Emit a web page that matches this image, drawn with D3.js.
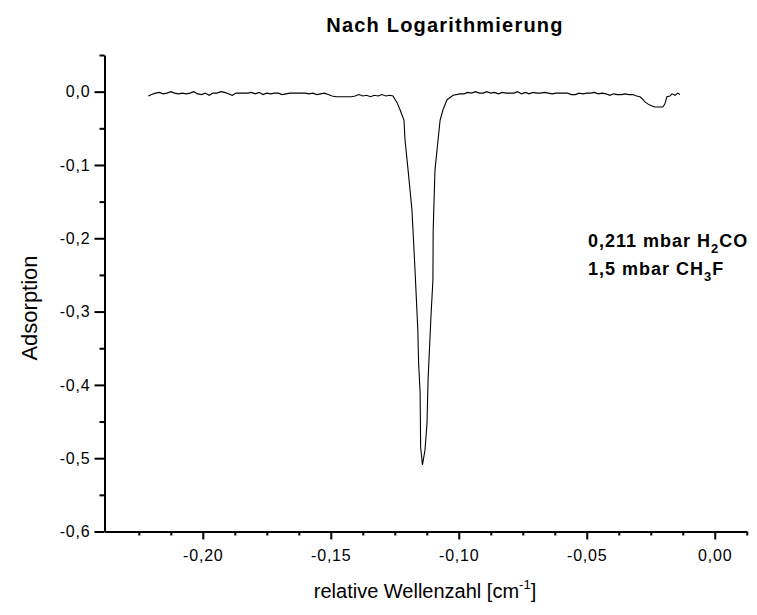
<!DOCTYPE html>
<html>
<head>
<meta charset="utf-8">
<script src="https://cdn.jsdelivr.net/npm/d3@7"></script>
<style>
  html, body { margin: 0; padding: 0; background: #fff; }
  svg { display: block; }
  text { font-family: "Liberation Sans", Arial, sans-serif; fill: #000; }
</style>
</head>
<body>
<svg id="chart" width="757" height="615"></svg>
<script>
// ---------------- data ----------------
const chartTitle = "Nach Logarithmierung";
const yAxisTitle = "Adsorption";
const xAxisTitle = "relative Wellenzahl [cm";
const annotationLines = [
  [["0,211 mbar H", false], ["2", true], ["CO", false]],
  [["1,5 mbar CH", false], ["3", true], ["F", false]]
];

const xTickValues = [-0.20, -0.15, -0.10, -0.05, 0.00];
const xTickLabels = ["-0,20", "-0,15", "-0,10", "-0,05", "0,00"];
const yTickValues = [0.0, -0.1, -0.2, -0.3, -0.4, -0.5, -0.6];
const yTickLabels = ["0,0", "-0,1", "-0,2", "-0,3", "-0,4", "-0,5", "-0,6"];
const xMinorTicks = [-0.225, -0.2125, -0.1875, -0.175, -0.1625, -0.1375, -0.125, -0.1125, -0.0875, -0.075, -0.0625, -0.0375, -0.025, -0.0125, 0.0125];
const yMinorTicks = [0.05, -0.05, -0.15, -0.25, -0.35, -0.45, -0.55];
const xDomain = [-0.2384, 0.0124];
const yDomain = [-0.6, 0.05];

// relative wave number [cm^-1]
const waveNumber = [
  -0.2213, -0.2200, -0.2185, -0.2170, -0.2155, -0.2140, -0.2125, -0.2110, -0.2095, -0.2080,
  -0.2065, -0.2050, -0.2035, -0.2020, -0.2005, -0.1990, -0.1975, -0.1960, -0.1945, -0.1930,
  -0.1915, -0.1900, -0.1885, -0.1870, -0.1855, -0.1840, -0.1825, -0.1810, -0.1795, -0.1780,
  -0.1765, -0.1750, -0.1735, -0.1720, -0.1705, -0.1690, -0.1675, -0.1660, -0.1645, -0.1630,
  -0.1615, -0.1600, -0.1585, -0.1570, -0.1555, -0.1540, -0.1525, -0.1510, -0.1495, -0.1480,
  -0.1465, -0.1450, -0.1435, -0.1420, -0.1405, -0.1390, -0.1375, -0.1360, -0.1345, -0.1330,
  -0.1315, -0.1300, -0.1285, -0.1270, -0.1257, -0.1241, -0.1229, -0.1214, -0.1210, -0.1198,
  -0.1183, -0.1171, -0.1160, -0.1157, -0.1151, -0.1149, -0.1142, -0.1132, -0.1124, -0.1120,
  -0.1108, -0.1101, -0.1100, -0.1093, -0.1081, -0.1073, -0.1062, -0.1046, -0.1022, -0.0995,
  -0.0980, -0.0965, -0.0950, -0.0935, -0.0920, -0.0905, -0.0890, -0.0875, -0.0860, -0.0845,
  -0.0830, -0.0815, -0.0800, -0.0785, -0.0770, -0.0755, -0.0740, -0.0725, -0.0710, -0.0695,
  -0.0680, -0.0665, -0.0650, -0.0635, -0.0620, -0.0605, -0.0590, -0.0575, -0.0560, -0.0545,
  -0.0530, -0.0515, -0.0500, -0.0485, -0.0470, -0.0455, -0.0440, -0.0425, -0.0410, -0.0395,
  -0.0380, -0.0365, -0.0350, -0.0335, -0.0320, -0.0305, -0.0292, -0.0280, -0.0273, -0.0260,
  -0.0250, -0.0234, -0.0203, -0.0195, -0.0187, -0.0175, -0.0167, -0.0155, -0.0145, -0.0136
];
// adsorption
const adsorption = [
  -0.006, -0.004, -0.002, -0.001, -0.003, -0.002, 0.000, -0.002, -0.003, -0.002,
  -0.003, -0.002, 0.000, -0.003, -0.004, -0.002, -0.005, -0.002, -0.002, 0.000,
  -0.001, -0.003, -0.005, -0.002, -0.002, -0.002, -0.002, -0.001, -0.003, -0.001,
  -0.004, -0.002, -0.003, -0.002, -0.002, -0.004, -0.003, -0.002, -0.002, -0.002,
  -0.002, -0.002, -0.003, -0.002, -0.004, -0.003, -0.002, -0.004, -0.006, -0.007,
  -0.007, -0.007, -0.007, -0.007, -0.006, -0.004, -0.006, -0.005, -0.007, -0.005,
  -0.006, -0.004, -0.006, -0.005, -0.006, -0.015, -0.025, -0.039, -0.066, -0.107,
  -0.161, -0.243, -0.325, -0.370, -0.411, -0.485, -0.509, -0.489, -0.452, -0.393,
  -0.302, -0.257, -0.189, -0.107, -0.066, -0.039, -0.025, -0.011, -0.005, -0.003,
  -0.003, -0.001, -0.002, 0.000, -0.002, -0.002, 0.000, -0.002, -0.001, -0.003,
  -0.001, -0.002, -0.002, -0.002, 0.000, -0.003, -0.001, -0.003, -0.001, -0.002,
  -0.002, -0.001, -0.002, -0.003, -0.002, -0.002, -0.002, -0.002, -0.004, -0.004,
  -0.002, -0.003, -0.002, -0.002, -0.001, -0.003, -0.002, -0.003, -0.005, -0.003,
  -0.004, -0.004, -0.003, -0.004, -0.004, -0.006, -0.007, -0.011, -0.014, -0.017,
  -0.019, -0.021, -0.021, -0.017, -0.007, -0.006, -0.003, -0.005, -0.002, -0.004
];

// ---------------- drawing ----------------
const svg = d3.select("#chart");
const x = d3.scaleLinear().domain(xDomain).range([104.5, 746.5]);
const y = d3.scaleLinear().domain(yDomain).range([531.5, 55]);

const FONT = "Liberation Sans, Arial, sans-serif";

// minor ticks
svg.append("g")
  .attr("transform", `translate(0,${y(yDomain[0])})`)
  .call(d3.axisBottom(x).tickValues(xMinorTicks).tickSize(4).tickFormat(""))
  .call(g => g.select(".domain").remove())
  .call(g => g.selectAll("line").attr("stroke-width", 2));
svg.append("g")
  .attr("transform", `translate(${x(xDomain[0])},0)`)
  .call(d3.axisLeft(y).tickValues(yMinorTicks).tickSize(5).tickFormat(""))
  .call(g => g.select(".domain").remove())
  .call(g => g.selectAll("line").attr("stroke-width", 2));

// major axes
const xAxis = svg.append("g")
  .attr("transform", `translate(0,${y(yDomain[0])})`)
  .call(d3.axisBottom(x).tickValues(xTickValues).tickSizeInner(8).tickSizeOuter(0).tickPadding(10)
    .tickFormat((d, i) => xTickLabels[i]));
xAxis.select(".domain").attr("stroke-width", 2);
xAxis.selectAll("line").attr("stroke-width", 2);
xAxis.selectAll("text").attr("font-family", FONT).attr("font-size", 16).attr("letter-spacing", 0.8);

const yAxis = svg.append("g")
  .attr("transform", `translate(${x(xDomain[0])},0)`)
  .call(d3.axisLeft(y).tickValues(yTickValues).tickSizeInner(10).tickSizeOuter(0).tickPadding(4)
    .tickFormat((d, i) => yTickLabels[i]));
yAxis.select(".domain").attr("stroke-width", 2);
yAxis.selectAll("line").attr("stroke-width", 2);
yAxis.selectAll("text").attr("font-family", FONT).attr("font-size", 16).attr("letter-spacing", 0.8);

// data line
const pts = waveNumber.map((w, i) => [w, adsorption[i]]);
svg.append("path")
  .datum(pts)
  .attr("fill", "none")
  .attr("stroke", "#000")
  .attr("stroke-width", 1.1)
  .attr("d", d3.line().x(d => x(d[0])).y(d => y(d[1])));

// title
svg.append("text")
  .attr("x", 445).attr("y", 32)
  .attr("text-anchor", "middle")
  .attr("font-size", 20).attr("font-weight", "bold").attr("letter-spacing", 1.2)
  .text(chartTitle);

// axis titles
svg.append("text")
  .attr("transform", `translate(37,308) rotate(-90)`)
  .attr("text-anchor", "middle")
  .attr("font-size", 22)
  .text(yAxisTitle);

const xt = svg.append("text")
  .attr("x", 425).attr("y", 598)
  .attr("text-anchor", "middle")
  .attr("font-size", 20);
xt.append("tspan").text(xAxisTitle);
xt.append("tspan").attr("dy", -9).attr("font-size", 13).text("-1");
xt.append("tspan").attr("dy", 9).text("]");

// annotation
annotationLines.forEach((line, li) => {
  const t = svg.append("text")
    .attr("x", 588).attr("y", 247 + li * 28)
    .attr("font-size", 18).attr("font-weight", "bold").attr("letter-spacing", 1);
  line.forEach(([s, sub]) => {
    if (sub) {
      t.append("tspan").attr("dy", 6).attr("font-size", 13).text(s);
    } else {
      const ts = t.append("tspan").text(s);
      if (t.selectAll("tspan").size() > 1) ts.attr("dy", -6);
    }
  });
});
</script>
</body>
</html>
